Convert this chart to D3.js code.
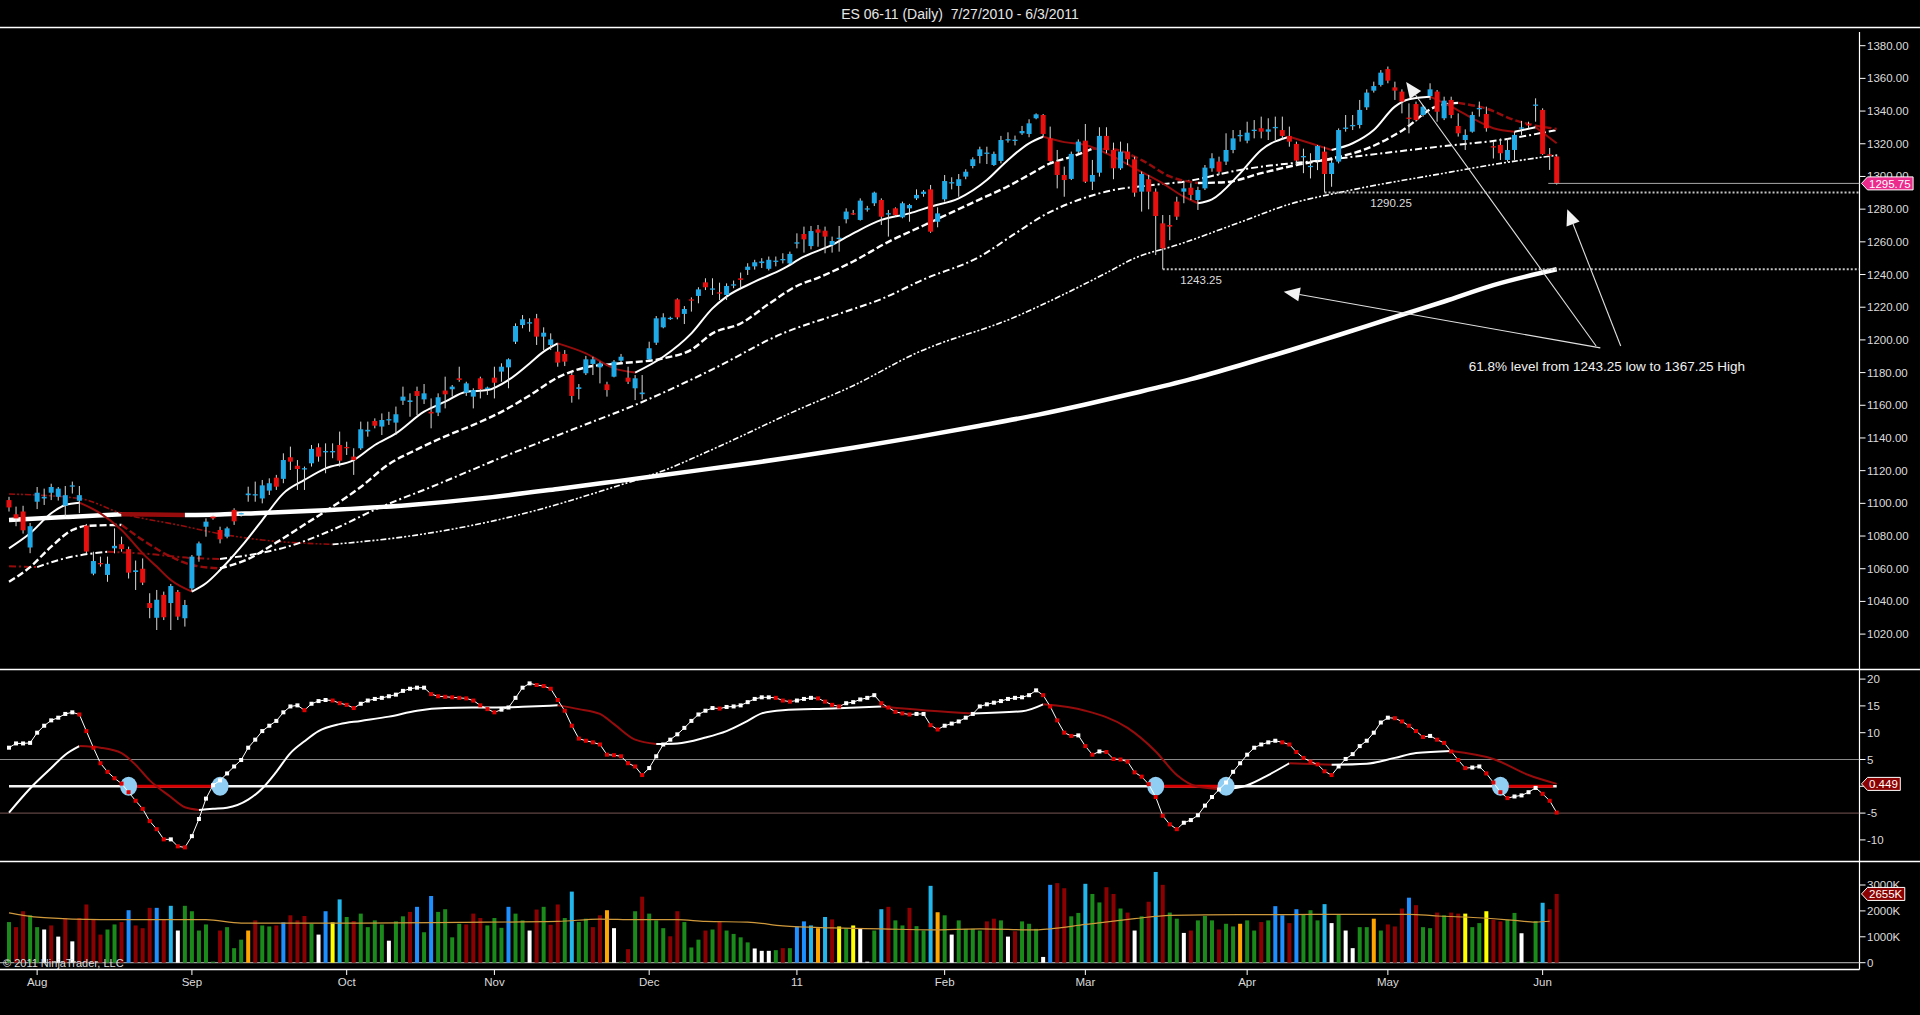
<!DOCTYPE html>
<html>
<head>
<meta charset="utf-8">
<script src="https://cdn.jsdelivr.net/npm/d3@7"></script>
<style>
  body { margin: 0; background: #000; }
  svg { display: block; font-family: "Liberation Sans", Arial, sans-serif; }
</style>
</head>
<body>
<svg id="chart" width="1920" height="1015"></svg>
<script>
// ---- daily bars, ES 06-11, index 0 = 7/27/2010 ... 220 = 6/3/2011
const opens = [
  1102,1093.3,1095,1073,1101,1103,1106.5,1104,1098.6,1110.5,
  1101.6,1086.4,1057,1063.5,1056.2,1072.5,1075,1072,1058,1060,
  1039,1030,1044,1039,1045.8,1029.7,1048,1068,1085.7,1091.9,
  1083.7,1079.6,1096,1093.5,1105,1105.2,1103,1107.8,1115.7,1115,
  1128.2,1123,1121,1124.5,1134.3,1131.5,1131.5,1135.7,1134.5,1128.6,
  1133.7,1144,1150.4,1147,1151,1149.4,1162.8,1162,1168.7,1163.6,
  1156,1155.5,1169,1169.8,1176.5,1167.7,1165.3,1176.5,1170.2,1176.9,
  1180.6,1183.2,1198.9,1209.1,1210.3,1213.2,1202,1196.9,1192.8,1191.4,
  1178.5,1170,1179.6,1185.3,1183.2,1172.8,1177.5,1187.3,1176.9,1170.4,
  1166.8,1188.1,1198.3,1207.7,1212.9,1224.8,1215.9,1224.8,1226.9,1235.2,
  1231,1229.1,1227.5,1233.4,1237.7,1242.8,1245,1247,1243.5,1248,
  1249,1246.8,1259.3,1264.8,1257.4,1267.6,1266.8,1258.1,1262,1273.8,
  1277.5,1273.4,1280,1283.6,1285.6,1277,1280.5,1275,1280.5,1286.6,
  1289.3,1292.1,1272.3,1286,1296,1294.2,1299.9,1306.4,1312.5,1314,
  1307,1309.5,1322.3,1322,1326.4,1326,1335.6,1337.6,1323.3,1309.1,
  1300.9,1298.5,1315.2,1321.9,1296.8,1302.3,1324.8,1316.2,1305,1315.2,
  1310.5,1290.7,1298.3,1290.7,1271.3,1270.3,1284.6,1290.7,1293.1,1285.6,
  1292.7,1305,1309.1,1309.1,1316.2,1324.8,1321.9,1328.2,1329.5,1327.4,
  1330,1328.4,1324.8,1319.9,1312,1306,1310.1,1315.2,1301.5,1309.1,
  1329.5,1331,1331.5,1342.3,1352.5,1356,1365.7,1354.5,1351.9,1336,
  1344.3,1337.6,1349.2,1351.9,1335.6,1346.8,1330.9,1322.3,1327.4,1341.5,
  1338.2,1318.5,1319.3,1310.1,1316.2,1329.6,1332,1343.5,1340.7,1313.5,1312.2
];
const highs = [
  1104,1098,1098.5,1088,1110,1109,1112,1110,1110.6,1113.3,
  1110.6,1087.4,1070.4,1067.4,1067.4,1084.7,1079.6,1073.5,1065,1066.3,
  1045,1047,1046,1050.7,1047,1040.9,1068.4,1076.6,1090.8,1093,
  1085.7,1085.7,1097,1094.9,1110.2,1113.3,1114.3,1115.3,1117.4,1130.6,
  1134.7,1126.5,1122.5,1135.7,1136.7,1136.7,1136.7,1143.9,1137.7,1133.7,
  1150,1150,1152,1155,1156,1159.2,1171.4,1167.3,1171.4,1173,
  1164.2,1167.3,1177.5,1172.4,1183.6,1174.4,1170.4,1177.5,1171.4,1183.6,
  1185.7,1188.7,1210.1,1215.2,1213.2,1215.9,1207.7,1204,1197.9,1193.8,
  1180,1173,1190.2,1189.7,1186.7,1174.4,1187.7,1191.4,1183.6,1178.5,
  1178.5,1198.9,1214.6,1216.3,1214.2,1225.4,1220.7,1226,1232.2,1237.7,
  1237.7,1235,1234.6,1236.3,1241.2,1246.9,1249,1250,1251,1251,
  1253,1254,1265.2,1269.3,1269.7,1270.3,1269.3,1263.2,1269.7,1280.5,
  1279.5,1286.6,1282,1290.7,1286.6,1279.5,1281.1,1284.6,1283.2,1292.1,
  1291.7,1294.8,1281.1,1300.9,1299.5,1301.5,1304.4,1311.7,1318.2,1318.2,
  1315.2,1324.8,1327,1325,1330.9,1335,1338.6,1338.2,1330.5,1316.2,
  1306,1315.2,1322.7,1332.1,1310.1,1330.1,1330.1,1320.7,1321.3,1320.3,
  1312.1,1303,1300.9,1292.7,1276.4,1276.4,1287.6,1296.8,1295.8,1293.7,
  1307,1314.2,1312.1,1326.4,1328.4,1328.4,1333.5,1334.5,1336.6,1335.6,
  1336.6,1336.6,1330.5,1321.3,1317,1314.2,1319.2,1318.2,1310.1,1329.4,
  1337.6,1337.6,1346.8,1353.3,1358,1365.1,1367.25,1358,1353.3,1344.7,
  1345.8,1343.7,1357,1352.9,1348.8,1348.8,1338.6,1328.8,1339.6,1345.8,
  1342.7,1321.3,1323.3,1323.3,1327.4,1334,1333.5,1347.8,1341.7,1317.4,1313.5
];
const lows = [
  1095,1086,1081.5,1069.5,1096.5,1099,1102,1101.7,1092,1106,
  1094,1069.4,1056,1061.3,1052,1069.4,1070.4,1054,1047,1050,
  1029.7,1022.5,1028.6,1022.5,1028.6,1024.6,1046,1064.3,1079.6,1090,
  1075.5,1078.6,1086.8,1091.9,1101,1101,1100,1105.1,1108.2,1112.3,
  1120.4,1108.2,1108.2,1122.5,1125.5,1118.4,1127.6,1122.5,1129.6,1117.4,
  1132.7,1140.8,1145.9,1141.8,1148,1141.8,1160.2,1153,1154,1160.8,
  1145.9,1153.4,1158.1,1165.3,1174.4,1165.7,1158.1,1164.2,1166.3,1164.2,
  1174.4,1170.4,1197.5,1207.1,1205,1196.9,1193.8,1193.8,1183.6,1184,
  1161.6,1163.6,1178.5,1178.5,1173.4,1165.3,1177.1,1185.7,1173,1163.2,
  1163.6,1187.7,1196.9,1207.1,1212.2,1212.6,1209.7,1217.3,1222.4,1230.5,
  1227.5,1224.4,1224.4,1231.6,1231.6,1239.7,1243,1244,1242.5,1245,
  1246.8,1245.8,1256,1253.4,1255.4,1257,1253,1253.4,1254,1271.3,
  1276.4,1273,1278.5,1281.9,1270.3,1263.2,1275.4,1274.4,1272.3,1285.6,
  1287.6,1265.5,1268.9,1284.6,1292.1,1287.6,1298.3,1305,1308,1307.6,
  1306.4,1308,1320.7,1319,1325.4,1324,1335,1324,1309,1292.7,
  1287.6,1297.8,1314.2,1296,1291.7,1299.9,1314.2,1298.3,1304,1307,
  1287.6,1278.5,1279.9,1251.9,1243.25,1261,1273.4,1283.6,1285.6,1279.5,
  1291.7,1302.9,1300.9,1307,1314.2,1321.3,1320.3,1323.3,1323.3,1322.3,
  1322.3,1322.3,1318.2,1307,1302,1298.8,1303.9,1290.25,1293.7,1308,
  1327.4,1328.4,1329.4,1340.7,1351.3,1355,1357,1346.8,1338.6,1326.4,
  1333.5,1336.6,1346.8,1333.5,1334.5,1335.6,1324.4,1316.2,1326.8,1336.6,
  1327.4,1311,1310.1,1309,1310.1,1325.4,1329.5,1333.5,1313.2,1304,1295
];
const closes = [
  1097.5,1090.8,1083.5,1086,1106.5,1104,1110,1109,1105,1111,
  1105,1070.5,1064.7,1062.7,1063,1074,1072,1057.6,1059,1051.5,
  1036,1041,1030.3,1049.4,1030.7,1037.8,1067.4,1075.5,1088.8,1090.8,
  1078,1084.7,1089,1094,1106,1105.6,1111,1112.3,1110.2,1126.5,
  1125.5,1121,1121.5,1133.3,1128.6,1132,1132,1126.1,1133.8,1126.5,
  1145.3,1145,1147.5,1151,1151.5,1154.5,1165.3,1163,1165.7,1167.3,
  1155,1164.9,1166.7,1171.4,1175.5,1173.4,1169.3,1169.8,1170.8,1173.8,
  1183.6,1188.1,1208.5,1212.6,1210.8,1202,1204.4,1200.3,1186.1,1186.7,
  1165.7,1171,1188.1,1188.1,1185.7,1169.3,1186.7,1189.7,1174.4,1176.5,
  1167.8,1194.9,1213.2,1213.8,1213.5,1213.8,1218.9,1224,1230.9,1232.2,
  1231.5,1228.5,1233,1234,1236.7,1244.8,1247.5,1248,1249,1248.5,
  1249.5,1252.6,1259.7,1261.5,1266.6,1265.6,1263.2,1260.5,1262.5,1278.5,
  1276.9,1285.2,1280.5,1290.1,1275.4,1277.5,1276.4,1283.6,1282.5,1288.7,
  1290.7,1266.2,1277.4,1297.2,1296.5,1298.3,1302.9,1310.5,1316.6,1314.6,
  1313.8,1322.3,1322.8,1322.5,1327.8,1332.5,1338,1326,1309.5,1300.9,
  1297.8,1313.8,1321.3,1296.8,1300.9,1324.8,1316.2,1305,1315.2,1310.5,
  1290.1,1301.5,1290.7,1275.8,1256,1269.3,1275.4,1292.7,1288.7,1291.7,
  1305.4,1311.1,1302.9,1316.2,1323.3,1325.4,1326.8,1328.6,1327.4,1328.8,
  1330.3,1324.8,1321.3,1309.7,1312.5,1306.5,1318.6,1301.5,1308.4,1328.4,
  1329.9,1331.5,1340.7,1351.3,1355.3,1363.5,1358.6,1352.5,1345.8,1335.5,
  1334.5,1342.7,1353.3,1339.6,1346.4,1337.6,1326.4,1325.4,1337.6,1341.9,
  1329.5,1318,1314.2,1316.2,1325.4,1330,1331.5,1344,1313.7,1313,1295.75
];

// ---- moving averages (bar index, price)
const maFastIdx = [0,3,6,8,10,13,16,19,21,23,26,28,30,33,36,39,42,45,49,52,55,59,62,65,68,71,74,76,78,82,86,89,93,97,100,102,106,110,113,117,120,124,128,131,135,139,142,145,147,150,153,157,160,164,167,169,171,175,178,182,185,188,191,194,197,199,202,205,208,211,214,217,220];
const maFastVal = [1072.5,1081.7,1093.9,1099,1100.4,1093.9,1083.7,1069.4,1061.3,1053.1,1046,1051.1,1059.2,1073.5,1089.8,1106.1,1114.3,1121.4,1126.5,1135.7,1142.8,1156.1,1162.2,1168.3,1169.3,1175.5,1185.6,1192.8,1197.9,1191.8,1182.6,1180,1189.7,1204,1219.3,1226.5,1235.6,1243.5,1250.9,1258.1,1265.2,1273.4,1277.4,1281.5,1286.6,1297.8,1310.1,1320.3,1324.3,1321,1319.3,1312.1,1305,1295.8,1287.6,1283.6,1286,1301.9,1316.2,1324.3,1320.3,1316.2,1320.3,1328.4,1342.7,1347.2,1348.8,1342.7,1335.6,1329.5,1327.4,1330.1,1320.3];

const ma20Idx = [0,3,6,9,11,16,19,23,26,30,34,38,42,46,50,54,58,62,66,70,74,78,82,87,93,97,100,104,108,112,115,120,125,130,134,138,142,145,148,151,154,157,161,165,169,173,178,183,188,193,198,203,206,210,214,220];
const ma20Val = [1052,1061,1073.5,1083.7,1086.2,1086.8,1077.6,1067.4,1062.3,1060.2,1066,1076,1087,1098,1110,1124,1133,1141,1148,1156,1166,1177,1183.2,1185.7,1188.7,1194,1204,1210,1222,1233,1238,1248,1260,1270,1278,1286,1294,1301,1308,1312,1317,1316.5,1310,1300,1296,1296.5,1302,1307,1311,1317,1328,1343,1345,1341.5,1334.5,1329];

const ma50Idx = [0,4,8,14,20,26,30,35,40,45,53,60,70,80,90,100,110,118,124,130,138,143,147,152,157,162,167,175,189,204,212,220];
const ma50Val = [1061.5,1061,1066.4,1070.4,1069,1066.5,1066,1069,1074,1082,1098,1110,1128,1145,1162,1182,1204,1216,1225,1237,1251,1265,1276,1285.6,1291.7,1294.5,1296.8,1304,1311,1318.6,1322.3,1328.4];

const ma100Idx = [0,10,16,24,31,36,46,57,71,86,93,100,112,120,129,143,150,156,160,166,175,182,190,204,212,220];
const ma100Val = [1105.7,1103,1093.9,1086.8,1080.6,1077.6,1074.9,1080,1091.4,1110,1120,1133,1157,1172,1192,1214,1228,1241,1250,1258,1272,1283,1291,1302,1308,1313];

const ma200Idx = [0,8,16,20,25,30,35,45,57,68,78,86,93,100,107,112,120,129,138,146,153,160,168,175,182,189,197,204,211,220];
const ma200Val = [1089.8,1091.6,1093.4,1093.1,1092.9,1093.2,1094,1095.8,1099,1103.5,1108.8,1113.3,1117.3,1121.4,1125.5,1128.6,1134,1140.5,1147.5,1154,1160.5,1167.5,1176,1184.5,1193.5,1203,1214,1223.5,1233.5,1243.2];

// ---- oscillator (dotted line, one value per bar)
const oscVal = [
  7.2,8.0,8.0,8.1,10.0,11.3,12.3,12.8,13.5,13.8,
  13.4,10.3,7.2,4.3,2.7,1.5,0.5,-1.1,-2.7,-4.2,
  -6.5,-8.0,-9.9,-9.9,-11.2,-11.4,-9.3,-6.1,-2.3,0.2,
  1.1,2.4,3.7,4.9,7.2,8.7,10.3,11.3,12.2,13.8,
  14.9,15.1,14.2,15.4,15.9,16.1,16.0,15.5,15.2,14.6,
  15.4,16.0,16.3,16.5,16.8,17.1,17.8,18.2,18.4,18.4,
  17.2,16.8,16.7,16.6,16.5,16.4,16.0,15.1,14.4,13.8,
  14.3,14.7,16.5,18.4,19.2,18.9,18.7,18.2,16.1,14.1,
  11.3,8.9,8.5,8.2,7.8,5.9,5.8,5.6,4.3,3.7,
  2.1,3.4,5.6,7.8,8.7,9.7,10.9,12.2,13.4,14.1,
  14.6,14.5,14.8,14.9,15.1,15.7,16.3,16.6,16.6,16.5,
  16.0,15.8,16.0,16.3,16.5,16.4,15.8,15.2,14.9,15.5,
  15.7,16.2,16.5,17.0,15.5,14.7,13.9,13.6,13.4,13.5,
  13.5,11.4,10.6,11.3,11.7,12.1,12.8,13.5,14.9,15.3,
  15.6,15.9,16.3,16.5,16.6,17.0,17.9,17.0,14.9,12.3,
  10.0,9.4,9.5,7.5,5.9,6.5,6.4,5.1,5.0,4.6,
  2.6,1.8,0.4,-2.0,-5.5,-7.1,-8.0,-6.8,-6.3,-5.4,
  -3.6,-2.0,-0.6,0.7,2.7,4.3,5.9,7.2,7.8,8.2,
  8.5,8.2,7.8,6.4,5.3,4.6,4.1,2.8,2.1,3.7,
  5.1,6.0,7.5,8.5,10.0,11.9,12.8,12.7,12.1,11.3,
  10.3,9.2,9.4,8.7,8.1,6.5,4.9,3.4,3.5,3.7,
  2.4,0.7,-1.1,-2.2,-1.9,-1.7,-1.1,-0.3,-1.4,-2.7,-4.9
];
const sigIdx = [0,3,6,8,10,13,16,18,20,23,25,27,29,31,34,36,38,40,42,44,47,50,54,58,62,67,71,74,78,81,84,86,89,92,95,99,102,105,107,110,117,124,131,137,144,147,153,159,163,166,169,173,176,179,182,188,193,197,200,205,211,216,220];
const sigVal = [-4.9,-0.4,3.4,5.9,7.5,7.2,6.2,4.0,1.1,-2.0,-3.9,-4.4,-4.2,-4.0,-2.5,-0.4,2.7,6.2,8.4,10.3,11.6,12.2,13.0,14.1,14.6,14.7,14.75,14.9,15.1,14.4,13.5,11.6,8.7,7.9,8.0,9.1,10.3,12.2,13.6,14.2,14.5,14.9,14.1,13.6,14.0,15.3,14.1,10.9,6.5,2.1,-0.1,-0.6,0.2,2.1,4.3,4.0,4.2,5.3,6.2,6.6,5.1,2.1,0.449];
const crossIdx = [17, 30, 163, 173, 212];

// ---- volume (K contracts) and bar colour codes
const volume = [
  1569,1373,1987,1830,1373,1281,1438,1007,1725,824,
  1725,2248,1660,1085,1281,1477,1569,2026,1438,1333,
  2118,2118,1660,2196,1242,2196,1987,1242,1477,40,
  1242,1373,562,889,1242,1634,1438,1399,1438,1556,
  1830,1634,1804,1503,1085,1987,1556,2444,1765,1608,
  1895,1373,1634,1477,850,1595,1791,1961,2157,1176,
  2575,1961,2065,980,1503,1477,1895,1725,1438,1725,
  1346,2157,1895,1634,1242,2052,2157,1464,2248,1725,
  2745,1569,1699,1373,1830,2026,1333,40,523,1987,
  2549,1895,1634,1333,1020,1987,1569,588,889,1242,
  1281,1595,1242,1111,980,784,549,458,458,484,
  562,562,1399,1595,1438,1333,1765,1673,1399,1333,
  1438,1333,40,1242,2065,2157,1634,1438,2118,1412,
  1242,2967,1948,1830,1085,1634,1307,1307,1242,1595,
  1699,1634,1007,1216,1595,1503,1307,222,3007,3072,
  2876,1791,1922,3046,2654,2327,2915,2654,2092,1935,
  1242,1791,2353,3503,3007,1935,1699,1150,1242,1634,
  1804,1634,1281,1503,1399,1503,1634,1242,1569,1634,
  2183,1830,1529,2065,1869,2026,1634,2261,1529,1856,
  1242,562,1373,1373,1699,1242,1477,1399,2092,2510,
  2222,1373,1333,1935,1830,1935,1895,1895,1373,1529,
  1987,1660,1595,1660,1922,1137,40,1608,2314,2065,2655
];
const volColorCodes =
  "GRRGGWRWRW" + "RRRRGGRBRR" + "RBRCWGGGGG" + "RGGGORGGRB" + "RRRGWBYCGR" +
  "GGGGWGGRBG" + "BGGGGRRRGG" + "GBGGWRGRRG" + "CGGRROWGRG" + "RGGGRRGGGR" +
  "GRGGGGWWWG" + "RGBBCOCRYG" + "YWWGCRGGRG" + "GCOGWGGGGR" + "RGWRGGGWBR" +
  "RGGCGGRRGR" + "WGRCRGGWRG" + "GGRGGOGGRG" + "BBRBGGGCWG" + "WWGGOGRRRB" +
  "RGGRGRRYGG" + "YRRGGWGGCRR";
const volMaIdx = [0,2,5,13,28,33,39,50,64,78,84,89,95,99,105,110,117,124,131,138,146,148,153,157,160,165,175,182,189,199,203,207,214,217,219];
const volMaVal = [1922,1830,1739,1660,1660,1529,1529,1529,1556,1595,1686,1660,1660,1595,1569,1420,1346,1307,1268,1307,1268,1307,1477,1608,1699,1830,1856,1856,1869,1869,1804,1765,1634,1569,1600];

// ---- axis labels
const monthIdx = [4, 26, 48, 69, 91, 112, 133, 153, 176, 196, 218];
const monthLabels = ["Aug", "Sep", "Oct", "Nov", "Dec", "11", "Feb", "Mar", "Apr", "May", "Jun"];
const priceTicks = d3.range(1020, 1381, 20);
const oscTicks = [20, 15, 10, 5, 0, -5, -10];
const volTicks = [0, 1000, 2000, 3000];

// ---- annotations (bar index, price)
const levelLows = [[164, 1243.25], [187, 1290.25]];
const levelLabelIdx = [166.5, 193.5];
const arrowFrom = [[226.2, 1195.1], [225.6, 1196.3], [229.1, 1196.3]];
const arrowTo = [[181.2, 1229.5], [198.6, 1357.8], [221.5, 1280]];
const noteText = "61.8% level from 1243.25 low to 1367.25 High";
const notePos = [207.5, 1180.9];
const lastPrice = 1295.75;
const lastOsc = 0.449;
const lastVol = 2655;

// ---- colours
const upColor = "#1fa9e6", downColor = "#e80f0f", wickColor = "#d8d8d8";
const riseColor = "#ffffff", fallColor = "#960c0c";
const volColors = { G: "#1a8a1a", R: "#8b0000", B: "#1e8fff", C: "#22b6ec", W: "#ffffff", O: "#ffa500", Y: "#ffff00" };
const textColor = "#dcdcdc";

const W = 1920, H = 1015;
const axisX = 1859.5;

const svg = d3.select("#chart");
svg.append("rect").attr("width", W).attr("height", H).attr("fill", "#000");

// scales
const x = d3.scaleLinear().domain([0, 220]).range([9, 1556.7]);
const yP = d3.scaleLinear().domain([1020, 1380]).range([634.1, 45.7]);
const yO = d3.scaleLinear().domain([-5, 5]).range([813.1, 759.5]);
const yV = d3.scaleLinear().domain([0, 3000]).range([962.7, 885]);

const defs = svg.append("defs");
defs.append("clipPath").attr("id", "clipP").append("rect")
  .attr("x", 0).attr("y", 28.5).attr("width", axisX).attr("height", 640);
defs.append("clipPath").attr("id", "clipO").append("rect")
  .attr("x", 0).attr("y", 670.5).attr("width", axisX).attr("height", 190);

// title
svg.append("text")
  .attr("x", 960).attr("y", 19)
  .attr("text-anchor", "middle")
  .attr("fill", "#e6e6e6")
  .style("font-size", "14px")
  .style("white-space", "pre")
  .text("ES 06-11 (Daily)  7/27/2010 - 6/3/2011");

// frame lines
[27.5, 669.5, 861.5].forEach(yy => {
  svg.append("line").attr("x1", 0).attr("x2", W).attr("y1", yy).attr("y2", yy)
    .attr("stroke", "#fff").attr("stroke-width", 1.5);
});
svg.append("line").attr("x1", 0).attr("x2", axisX).attr("y1", 969.5).attr("y2", 969.5)
  .attr("stroke", "#fff").attr("stroke-width", 1.5);
svg.append("line").attr("x1", axisX).attr("x2", axisX).attr("y1", 32).attr("y2", 969.5)
  .attr("stroke", "#fff").attr("stroke-width", 1.2);

// line coloured by direction: white while rising, dark red while falling
function drawTrendLine(g, idx, vals, yScale, width, dash) {
  const line = d3.line().x(p => x(p[0])).y(p => yScale(p[1])).curve(d3.curveMonotoneX);
  let run = [[idx[0], vals[0]]];
  let dir = null;
  const flush = up => {
    g.append("path").datum(run)
      .attr("d", line)
      .attr("fill", "none")
      .attr("stroke", up ? riseColor : fallColor)
      .attr("stroke-width", width)
      .attr("stroke-dasharray", dash)
      .attr("stroke-linecap", "butt");
  };
  for (let k = 1; k < idx.length; k++) {
    const up = vals[k] >= vals[k - 1];
    if (dir !== null && up !== dir) {
      flush(dir);
      run = [run[run.length - 1]];
    }
    dir = up;
    run.push([idx[k], vals[k]]);
  }
  flush(dir);
}

// ================= price panel
const pricePanel = svg.append("g").attr("clip-path", "url(#clipP)");

drawTrendLine(pricePanel, ma200Idx, ma200Val, yP, 4.5, null);
drawTrendLine(pricePanel, ma100Idx, ma100Val, yP, 1.6, "6,2,2,2,2,2");
drawTrendLine(pricePanel, ma50Idx, ma50Val, yP, 2, "7,3,2,3");
drawTrendLine(pricePanel, ma20Idx, ma20Val, yP, 2.4, "7,3");
drawTrendLine(pricePanel, maFastIdx, maFastVal, yP, 2, null);

// candles
const candleG = pricePanel.append("g");
opens.forEach((o, i) => {
  const c = closes[i];
  const up = c >= o;
  candleG.append("line")
    .attr("x1", x(i)).attr("x2", x(i))
    .attr("y1", yP(highs[i])).attr("y2", yP(lows[i]))
    .attr("stroke", wickColor).attr("stroke-width", 1);
  const top = yP(Math.max(o, c)), bot = yP(Math.min(o, c));
  candleG.append("rect")
    .attr("x", x(i) - 2.5).attr("y", top)
    .attr("width", 5).attr("height", Math.max(1.3, bot - top))
    .attr("fill", up ? upColor : downColor);
});

// swing-low levels
levelLows.forEach((d, k) => {
  pricePanel.append("line")
    .attr("x1", x(d[0])).attr("x2", axisX)
    .attr("y1", yP(d[1])).attr("y2", yP(d[1]))
    .attr("stroke", "#c4c4c4").attr("stroke-width", 2).attr("stroke-dasharray", "2,2");
  svg.append("text")
    .attr("x", x(levelLabelIdx[k])).attr("y", yP(d[1]) + 15)
    .attr("fill", textColor).style("font-size", "11.5px")
    .text(d[1].toFixed(2));
});

// last price line
pricePanel.append("line")
  .attr("x1", x(218.8)).attr("x2", axisX)
  .attr("y1", yP(lastPrice)).attr("y2", yP(lastPrice))
  .attr("stroke", "#a8a8a8").attr("stroke-width", 1);

// arrows + note
const arrowG = svg.append("g");
arrowFrom.forEach((f, k) => {
  const t = arrowTo[k];
  const x1 = x(f[0]), y1 = yP(f[1]), x2 = x(t[0]), y2 = yP(t[1]);
  const a = Math.atan2(y2 - y1, x2 - x1);
  const L = 16, hw = 7;
  const bx = x2 - L * Math.cos(a), by = y2 - L * Math.sin(a);
  arrowG.append("line")
    .attr("x1", x1).attr("y1", y1).attr("x2", bx).attr("y2", by)
    .attr("stroke", "#e0e0e0").attr("stroke-width", 1.1);
  arrowG.append("path")
    .attr("d", `M${x2},${y2}L${bx + hw * Math.sin(a)},${by - hw * Math.cos(a)}L${bx - hw * Math.sin(a)},${by + hw * Math.cos(a)}Z`)
    .attr("fill", "#f2f2f2");
});
svg.append("text")
  .attr("x", x(notePos[0])).attr("y", yP(notePos[1]))
  .attr("fill", "#f0f0f0").style("font-size", "13.5px")
  .text(noteText);

// price axis
const pAxis = svg.append("g");
priceTicks.forEach(v => {
  pAxis.append("line").attr("x1", axisX).attr("x2", axisX + 6)
    .attr("y1", yP(v)).attr("y2", yP(v)).attr("stroke", "#fff");
  pAxis.append("text").attr("x", 1867).attr("y", yP(v)).attr("dy", "0.35em")
    .attr("fill", textColor).style("font-size", "11.5px").text(v.toFixed(2));
});

// value marker with pointed left edge
function marker(yc, label, fill) {
  const g = svg.append("g");
  const t = g.append("text").attr("x", 1869).attr("y", yc).attr("dy", "0.36em")
    .attr("fill", "#fff").style("font-size", "11.5px").text(label);
  const w = t.node().getComputedTextLength() + 10;
  const x0 = 1861.5, h = 13;
  g.insert("path", "text")
    .attr("d", `M${x0},${yc}L${x0 + 6},${yc - h / 2}L${x0 + w},${yc - h / 2}L${x0 + w},${yc + h / 2}L${x0 + 6},${yc + h / 2}Z`)
    .attr("fill", fill).attr("stroke", "#fff").attr("stroke-width", 1);
}
marker(yP(lastPrice), lastPrice.toFixed(2), "#ec2a8c");

// ================= oscillator panel
const oscPanel = svg.append("g").attr("clip-path", "url(#clipO)");
oscPanel.append("line").attr("x1", 0).attr("x2", axisX).attr("y1", yO(5)).attr("y2", yO(5))
  .attr("stroke", "#8a8a8a").attr("stroke-width", 1);
oscPanel.append("line").attr("x1", 0).attr("x2", axisX).attr("y1", yO(-5)).attr("y2", yO(-5))
  .attr("stroke", "#7a5656").attr("stroke-width", 1);

// zero line, red while the oscillator is below zero
oscPanel.append("line").attr("x1", x(0)).attr("x2", x(220)).attr("y1", yO(0)).attr("y2", yO(0))
  .attr("stroke", "#f4f4f4").attr("stroke-width", 2.5);
for (let k = 0; k < crossIdx.length; k += 2) {
  const end = k + 1 < crossIdx.length ? crossIdx[k + 1] : 220;
  oscPanel.append("line").attr("x1", x(crossIdx[k] - 0.5)).attr("x2", x(end - 0.5))
    .attr("y1", yO(0)).attr("y2", yO(0))
    .attr("stroke", "#d80000").attr("stroke-width", 3);
}

drawTrendLine(oscPanel, sigIdx, sigVal, yO, 2, null);

crossIdx.forEach(i => {
  oscPanel.append("ellipse").attr("cx", x(i)).attr("cy", yO(0))
    .attr("rx", 8.5).attr("ry", 9.5).attr("fill", "#90cff3");
});

oscPanel.append("path").datum(oscVal)
  .attr("d", d3.line().x((d, i) => x(i)).y(d => yO(d)))
  .attr("fill", "none").attr("stroke", "#fff").attr("stroke-width", 1);
oscVal.forEach((v, i) => {
  const up = i === 0 || v >= oscVal[i - 1];
  oscPanel.append("rect").attr("x", x(i) - 2).attr("y", yO(v) - 2)
    .attr("width", 4).attr("height", 4)
    .attr("fill", up ? "#ffffff" : "#e00000");
});

// the zero label sits under the value marker, so only its tick is drawn
const oAxis = svg.append("g");
oscTicks.forEach(v => {
  oAxis.append("line").attr("x1", axisX).attr("x2", axisX + 6)
    .attr("y1", yO(v)).attr("y2", yO(v)).attr("stroke", "#fff");
  if (v !== 0) {
    oAxis.append("text").attr("x", 1867).attr("y", yO(v)).attr("dy", "0.35em")
      .attr("fill", textColor).style("font-size", "11.5px").text(v);
  }
});
marker(yO(lastOsc), String(lastOsc), "#8b0000");

// ================= volume panel
const volG = svg.append("g");
volG.append("line").attr("x1", 0).attr("x2", axisX).attr("y1", yV(0)).attr("y2", yV(0))
  .attr("stroke", "#9a9a9a").attr("stroke-width", 1.2);
volume.forEach((v, i) => {
  volG.append("rect")
    .attr("x", x(i) - 2).attr("y", yV(v))
    .attr("width", 4).attr("height", yV(0) - yV(v))
    .attr("fill", volColors[volColorCodes[i]]);
});
volG.append("path").datum(volMaIdx.map((d, k) => [d, volMaVal[k]]))
  .attr("d", d3.line().x(p => x(p[0])).y(p => yV(p[1])).curve(d3.curveMonotoneX))
  .attr("fill", "none").attr("stroke", "#d09a3c").attr("stroke-width", 1.2);

const vAxis = svg.append("g");
volTicks.forEach(v => {
  vAxis.append("line").attr("x1", axisX).attr("x2", axisX + 6)
    .attr("y1", yV(v)).attr("y2", yV(v)).attr("stroke", "#fff");
  vAxis.append("text").attr("x", 1867).attr("y", yV(v)).attr("dy", "0.35em")
    .attr("fill", textColor).style("font-size", "11.5px").text(v === 0 ? "0" : v + "K");
});
marker(yV(lastVol), lastVol + "K", "#8b0000");

svg.append("text").attr("x", 3).attr("y", 967)
  .attr("fill", textColor).style("font-size", "11px")
  .text("\u00a9 2011 NinjaTrader, LLC");

// time axis
monthIdx.forEach((i, k) => {
  svg.append("line").attr("x1", x(i)).attr("x2", x(i)).attr("y1", 969.5).attr("y2", 975)
    .attr("stroke", "#fff");
  svg.append("text").attr("x", x(i)).attr("y", 986)
    .attr("text-anchor", "middle")
    .attr("fill", textColor).style("font-size", "11.5px")
    .text(monthLabels[k]);
});
</script>
</body>
</html>
